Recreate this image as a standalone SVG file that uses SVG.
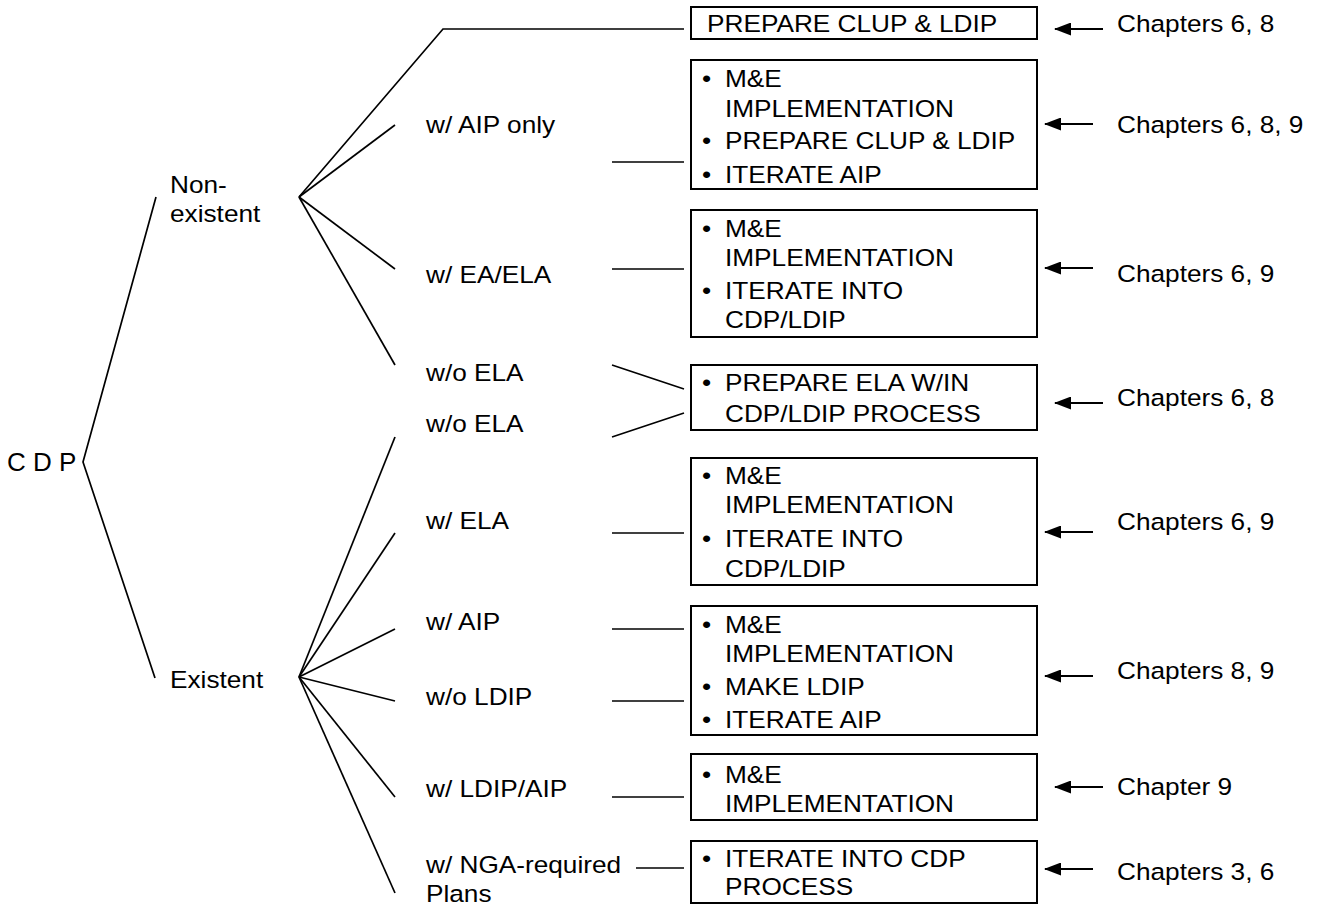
<svg xmlns="http://www.w3.org/2000/svg" width="1319" height="905" viewBox="0 0 1319 905">
<style>
text{font-family:"Liberation Sans",Arial,sans-serif;font-size:24.5px;fill:#000}
.cdp{font-size:26px}
.ln{stroke:#000;stroke-width:1.7;fill:none}
.bx{stroke:#000;stroke-width:2;fill:#fff}
.ar{stroke:#000;stroke-width:1.8;fill:none;marker-start:url(#ah)}
</style>
<defs>
<marker id="ah" markerUnits="userSpaceOnUse" markerWidth="17" markerHeight="13" viewBox="0 0 17 13" refX="16" refY="6.5" orient="auto-start-reverse">
<path d="M0,0 L17,6.5 L0,13 z" fill="#000"/>
</marker>
</defs>
<rect width="1319" height="905" fill="#fff"/>
<g id="connectors">
<polyline class="ln" points="156,197 83,462 155,678"/>
<polyline class="ln" points="299,197 443,29 684,29"/>
<line class="ln" x1="299" y1="197" x2="395" y2="125"/>
<line class="ln" x1="299" y1="197" x2="395" y2="269"/>
<line class="ln" x1="299" y1="197" x2="395" y2="365"/>
<line class="ln" x1="299" y1="677" x2="395" y2="437"/>
<line class="ln" x1="299" y1="677" x2="395" y2="533"/>
<line class="ln" x1="299" y1="677" x2="395" y2="629"/>
<line class="ln" x1="299" y1="677" x2="395" y2="701"/>
<line class="ln" x1="299" y1="677" x2="395" y2="797"/>
<line class="ln" x1="299" y1="677" x2="395" y2="893"/>
<line class="ln" x1="612" y1="162" x2="684" y2="162"/>
<line class="ln" x1="612" y1="269" x2="684" y2="269"/>
<line class="ln" x1="612" y1="365" x2="684" y2="389"/>
<line class="ln" x1="612" y1="437" x2="684" y2="413"/>
<line class="ln" x1="612" y1="533" x2="684" y2="533"/>
<line class="ln" x1="612" y1="629" x2="684" y2="629"/>
<line class="ln" x1="612" y1="701" x2="684" y2="701"/>
<line class="ln" x1="612" y1="797" x2="684" y2="797"/>
<line class="ln" x1="636" y1="868" x2="684" y2="868"/>
<line class="ar" x1="1055" y1="29" x2="1103" y2="29"/>
<line class="ar" x1="1045" y1="124" x2="1093" y2="124"/>
<line class="ar" x1="1045" y1="268" x2="1093" y2="268"/>
<line class="ar" x1="1055" y1="403" x2="1103" y2="403"/>
<line class="ar" x1="1045" y1="532" x2="1093" y2="532"/>
<line class="ar" x1="1045" y1="676" x2="1093" y2="676"/>
<line class="ar" x1="1055" y1="787" x2="1103" y2="787"/>
<line class="ar" x1="1045" y1="869" x2="1093" y2="869"/>
</g>
<g id="cdp"><text class="cdp" x="7" y="471">C D P</text></g>
<g id="nonexistent"><text transform="matrix(1.07,0,0,1,170,193)">Non-</text><text transform="matrix(1.07,0,0,1,170,222)">existent</text></g>
<g id="existent"><text transform="matrix(1.07,0,0,1,170,688)">Existent</text></g>
<g id="lbl-aip-only"><text transform="matrix(1.07,0,0,1,426,133)">w/ AIP only</text></g>
<g id="lbl-ea-ela"><text transform="matrix(1.07,0,0,1,426,283)">w/ EA/ELA</text></g>
<g id="lbl-wo-ela-1"><text transform="matrix(1.07,0,0,1,426,381)">w/o ELA</text></g>
<g id="lbl-wo-ela-2"><text transform="matrix(1.07,0,0,1,426,432)">w/o ELA</text></g>
<g id="lbl-w-ela"><text transform="matrix(1.07,0,0,1,426,529)">w/ ELA</text></g>
<g id="lbl-w-aip"><text transform="matrix(1.07,0,0,1,426,630)">w/ AIP</text></g>
<g id="lbl-wo-ldip"><text transform="matrix(1.07,0,0,1,426,705)">w/o LDIP</text></g>
<g id="lbl-ldip-aip"><text transform="matrix(1.07,0,0,1,426,797)">w/ LDIP/AIP</text></g>
<g id="lbl-nga"><text transform="matrix(1.07,0,0,1,426,873)">w/ NGA-required</text><text transform="matrix(1.07,0,0,1,426,902)">Plans</text></g>
<g id="box1"><rect class="bx" x="691" y="7" width="346" height="32"/><text transform="matrix(1.07,0,0,1,707,32)">PREPARE CLUP &amp; LDIP</text></g>
<g id="box2"><rect class="bx" x="691" y="60" width="346" height="129"/>
<text transform="matrix(1.07,0,0,1,702,87)">•<tspan x="21.5">M&amp;E</tspan></text>
<text transform="matrix(1.07,0,0,1,725,117)">IMPLEMENTATION</text>
<text transform="matrix(1.07,0,0,1,702,149)">•<tspan x="21.5">PREPARE CLUP &amp; LDIP</tspan></text>
<text transform="matrix(1.07,0,0,1,702,183)">•<tspan x="21.5">ITERATE AIP</tspan></text></g>
<g id="box3"><rect class="bx" x="691" y="210" width="346" height="127"/>
<text transform="matrix(1.07,0,0,1,702,237)">•<tspan x="21.5">M&amp;E</tspan></text>
<text transform="matrix(1.07,0,0,1,725,266)">IMPLEMENTATION</text>
<text transform="matrix(1.07,0,0,1,702,299)">•<tspan x="21.5">ITERATE INTO</tspan></text>
<text transform="matrix(1.07,0,0,1,725,328)">CDP/LDIP</text></g>
<g id="box4"><rect class="bx" x="691" y="365" width="346" height="65"/>
<text transform="matrix(1.07,0,0,1,702,391)">•<tspan x="21.5">PREPARE ELA W/IN</tspan></text>
<text transform="matrix(1.07,0,0,1,725,422)">CDP/LDIP PROCESS</text></g>
<g id="box5"><rect class="bx" x="691" y="458" width="346" height="127"/>
<text transform="matrix(1.07,0,0,1,702,484)">•<tspan x="21.5">M&amp;E</tspan></text>
<text transform="matrix(1.07,0,0,1,725,513)">IMPLEMENTATION</text>
<text transform="matrix(1.07,0,0,1,702,547)">•<tspan x="21.5">ITERATE INTO</tspan></text>
<text transform="matrix(1.07,0,0,1,725,577)">CDP/LDIP</text></g>
<g id="box6"><rect class="bx" x="691" y="606" width="346" height="129"/>
<text transform="matrix(1.07,0,0,1,702,633)">•<tspan x="21.5">M&amp;E</tspan></text>
<text transform="matrix(1.07,0,0,1,725,662)">IMPLEMENTATION</text>
<text transform="matrix(1.07,0,0,1,702,695)">•<tspan x="21.5">MAKE LDIP</tspan></text>
<text transform="matrix(1.07,0,0,1,702,728)">•<tspan x="21.5">ITERATE AIP</tspan></text></g>
<g id="box7"><rect class="bx" x="691" y="754" width="346" height="66"/>
<text transform="matrix(1.07,0,0,1,702,783)">•<tspan x="21.5">M&amp;E</tspan></text>
<text transform="matrix(1.07,0,0,1,725,812)">IMPLEMENTATION</text></g>
<g id="box8"><rect class="bx" x="691" y="841" width="346" height="62"/>
<text transform="matrix(1.07,0,0,1,702,867)">•<tspan x="21.5">ITERATE INTO CDP</tspan></text>
<text transform="matrix(1.07,0,0,1,725,895)">PROCESS</text></g>
<g id="ch1"><text transform="matrix(1.07,0,0,1,1117,32)">Chapters 6, 8</text></g>
<g id="ch2"><text transform="matrix(1.07,0,0,1,1117,133)">Chapters 6, 8, 9</text></g>
<g id="ch3"><text transform="matrix(1.07,0,0,1,1117,282)">Chapters 6, 9</text></g>
<g id="ch4"><text transform="matrix(1.07,0,0,1,1117,406)">Chapters 6, 8</text></g>
<g id="ch5"><text transform="matrix(1.07,0,0,1,1117,530)">Chapters 6, 9</text></g>
<g id="ch6"><text transform="matrix(1.07,0,0,1,1117,679)">Chapters 8, 9</text></g>
<g id="ch7"><text transform="matrix(1.07,0,0,1,1117,795)">Chapter 9</text></g>
<g id="ch8"><text transform="matrix(1.07,0,0,1,1117,880)">Chapters 3, 6</text></g>
</svg>
